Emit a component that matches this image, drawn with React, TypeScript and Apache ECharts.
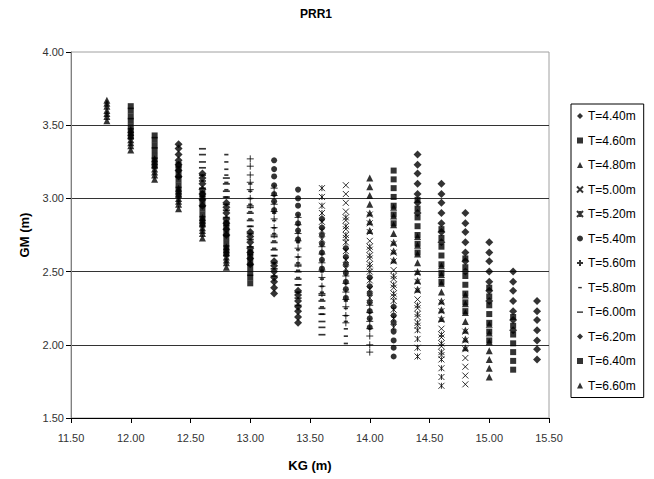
import React, { useEffect, useRef } from "react";
import * as echarts from "echarts";

// KG columns with GM values (m) for each draft T
const T440: [number, number[]][] = [
  [14.4, [3.30, 3.23, 3.17, 3.10, 3.03, 2.97, 2.90]],
  [14.6, [3.10, 3.03, 2.97, 2.90, 2.83, 2.77, 2.70]],
  [14.8, [2.90, 2.83, 2.77, 2.70, 2.63, 2.57, 2.50]],
  [15.0, [2.70, 2.63, 2.57, 2.50, 2.43, 2.37, 2.30]],
  [15.2, [2.50, 2.43, 2.37, 2.30, 2.23, 2.17, 2.10]],
  [15.4, [2.30, 2.23, 2.17, 2.10, 2.03, 1.97, 1.90]],
];
const T460: [number, number[]][] = [
  [14.2, [3.19, 3.13, 3.07, 3.01, 2.95, 2.89, 2.83]],
  [14.4, [2.99, 2.93, 2.87, 2.81, 2.75, 2.69, 2.63]],
  [14.6, [2.79, 2.73, 2.67, 2.61, 2.55, 2.49, 2.43]],
  [14.8, [2.59, 2.53, 2.47, 2.41, 2.35, 2.29, 2.23]],
  [15.0, [2.39, 2.33, 2.27, 2.21, 2.15, 2.09, 2.03]],
  [15.2, [2.19, 2.13, 2.07, 2.01, 1.95, 1.89, 1.83]],
];
const T480: [number, number[]][] = [
  [14.0, [3.14, 3.08, 3.02, 2.96, 2.90, 2.84, 2.78]],
  [14.2, [2.94, 2.88, 2.82, 2.76, 2.70, 2.64, 2.58]],
  [14.4, [2.74, 2.68, 2.62, 2.56, 2.50, 2.44, 2.38]],
  [14.6, [2.54, 2.48, 2.42, 2.36, 2.30, 2.24, 2.18]],
  [14.8, [2.34, 2.28, 2.22, 2.16, 2.10, 2.04, 1.98]],
  [15.0, [2.14, 2.08, 2.02, 1.96, 1.90, 1.84, 1.78]],
];
const T500: [number, number[]][] = [
  [13.8, [3.09, 3.03, 2.97, 2.91, 2.85, 2.79, 2.73]],
  [14.0, [2.89, 2.83, 2.77, 2.71, 2.65, 2.59, 2.53]],
  [14.2, [2.69, 2.63, 2.57, 2.51, 2.45, 2.39, 2.33]],
  [14.4, [2.49, 2.43, 2.37, 2.31, 2.25, 2.19, 2.13]],
  [14.6, [2.29, 2.23, 2.17, 2.11, 2.05, 1.99, 1.93]],
  [14.8, [2.09, 2.03, 1.97, 1.91, 1.85, 1.79, 1.73]],
];
const T520: [number, number[]][] = [
  [13.6, [3.07, 3.01, 2.95, 2.90, 2.84, 2.78, 2.72]],
  [13.8, [2.87, 2.81, 2.75, 2.70, 2.64, 2.58, 2.52]],
  [14.0, [2.67, 2.61, 2.55, 2.50, 2.44, 2.38, 2.32]],
  [14.2, [2.47, 2.41, 2.35, 2.30, 2.24, 2.18, 2.12]],
  [14.4, [2.27, 2.21, 2.15, 2.10, 2.04, 1.98, 1.92]],
  [14.6, [2.07, 2.01, 1.95, 1.90, 1.84, 1.78, 1.72]],
];
const T540: [number, number[]][] = [
  [13.2, [3.26, 3.20, 3.15, 3.09, 3.03, 2.98, 2.92]],
  [13.4, [3.06, 3.00, 2.95, 2.89, 2.83, 2.78, 2.72]],
  [13.6, [2.86, 2.80, 2.75, 2.69, 2.63, 2.58, 2.52]],
  [13.8, [2.66, 2.60, 2.55, 2.49, 2.43, 2.38, 2.32]],
  [14.0, [2.46, 2.40, 2.35, 2.29, 2.23, 2.18, 2.12]],
  [14.2, [2.26, 2.20, 2.15, 2.09, 2.03, 1.98, 1.92]],
];
const T560: [number, number[]][] = [
  [13.0, [3.27, 3.22, 3.16, 3.11, 3.06, 3.00, 2.95]],
  [13.2, [3.07, 3.02, 2.96, 2.91, 2.86, 2.80, 2.75]],
  [13.4, [2.87, 2.82, 2.76, 2.71, 2.66, 2.60, 2.55]],
  [13.6, [2.67, 2.62, 2.56, 2.51, 2.46, 2.40, 2.35]],
  [13.8, [2.47, 2.42, 2.36, 2.31, 2.26, 2.20, 2.15]],
  [14.0, [2.27, 2.22, 2.16, 2.11, 2.06, 2.00, 1.95]],
];
const T580: [number, number[]][] = [
  [12.8, [3.30, 3.25, 3.20, 3.16, 3.11, 3.06, 3.01]],
  [13.0, [3.10, 3.05, 3.00, 2.96, 2.91, 2.86, 2.81]],
  [13.2, [2.90, 2.85, 2.80, 2.76, 2.71, 2.66, 2.61]],
  [13.4, [2.70, 2.65, 2.60, 2.56, 2.51, 2.46, 2.41]],
  [13.6, [2.50, 2.45, 2.40, 2.36, 2.31, 2.26, 2.21]],
  [13.8, [2.30, 2.25, 2.20, 2.16, 2.11, 2.06, 2.01]],
];
const T600: [number, number[]][] = [
  [12.6, [3.34, 3.30, 3.25, 3.21, 3.16, 3.12, 3.07]],
  [12.8, [3.14, 3.10, 3.05, 3.01, 2.96, 2.92, 2.87]],
  [13.0, [2.94, 2.90, 2.85, 2.81, 2.76, 2.72, 2.67]],
  [13.2, [2.74, 2.70, 2.65, 2.61, 2.56, 2.52, 2.47]],
  [13.4, [2.54, 2.50, 2.45, 2.41, 2.36, 2.32, 2.27]],
  [13.6, [2.34, 2.30, 2.25, 2.21, 2.16, 2.12, 2.07]],
];
const T620: [number, number[]][] = [
  [12.4, [3.37, 3.34, 3.30, 3.26, 3.23, 3.19, 3.15]],
  [12.6, [3.17, 3.14, 3.10, 3.06, 3.03, 2.99, 2.95]],
  [12.8, [2.97, 2.94, 2.90, 2.86, 2.83, 2.79, 2.75]],
  [13.0, [2.77, 2.74, 2.70, 2.66, 2.63, 2.59, 2.55]],
  [13.2, [2.57, 2.54, 2.50, 2.46, 2.43, 2.39, 2.35]],
  [13.4, [2.37, 2.34, 2.30, 2.26, 2.23, 2.19, 2.15]],
];
const T640: [number, number[]][] = [
  [12.0, [3.63, 3.60, 3.56, 3.53, 3.49, 3.46, 3.42]],
  [12.2, [3.43, 3.40, 3.36, 3.33, 3.29, 3.26, 3.22]],
  [12.4, [3.23, 3.20, 3.16, 3.13, 3.09, 3.06, 3.02]],
  [12.6, [3.03, 3.00, 2.96, 2.93, 2.89, 2.86, 2.82]],
  [12.8, [2.83, 2.80, 2.76, 2.73, 2.69, 2.66, 2.62]],
  [13.0, [2.63, 2.60, 2.56, 2.53, 2.49, 2.46, 2.42]],
];
const T660: [number, number[]][] = [
  [11.8, [3.67, 3.65, 3.63, 3.60, 3.58, 3.56, 3.53]],
  [12.0, [3.47, 3.45, 3.43, 3.40, 3.38, 3.36, 3.33]],
  [12.2, [3.27, 3.25, 3.23, 3.20, 3.18, 3.16, 3.13]],
  [12.4, [3.07, 3.05, 3.03, 3.00, 2.98, 2.96, 2.93]],
  [12.6, [2.87, 2.85, 2.83, 2.80, 2.78, 2.76, 2.73]],
  [12.8, [2.67, 2.65, 2.63, 2.60, 2.58, 2.56, 2.53]],
];

const seriesNames = [
  "T=4.40m", "T=4.60m", "T=4.80m", "T=5.00m", "T=5.20m", "T=5.40m",
  "T=5.60m", "T=5.80m", "T=6.00m", "T=6.20m", "T=6.40m", "T=6.60m",
];
const seriesData = [T440, T460, T480, T500, T520, T540, T560, T580, T600, T620, T640, T660];

const xTicks = { min: 11.5, max: 15.5, interval: 0.5 };
const yTicks = { min: 1.5, max: 4.0, interval: 0.5 };

// marker styles (not data)
const CROSS = "path://M0 0L10 10M10 0L0 10";
const STAR = "path://M0 0L10 10M10 0L0 10M5 0L5 10";
const PLUS = "path://M5 0L5 10M0 5L10 5";
const SHORT_DASH = "path://M0 0L0 0M10 10L10 10M2 4L8 4L8 6.4L2 6.4Z";
const LONG_DASH = "path://M0 0L0 0M10 10L10 10M0 4L10 4L10 6.4L0 6.4Z";
const markerStyles: { symbol: string; size: number; stroke?: boolean }[] = [
  { symbol: "diamond", size: 8 },
  { symbol: "rect", size: 6 },
  { symbol: "triangle", size: 7 },
  { symbol: CROSS, size: 6, stroke: true },
  { symbol: STAR, size: 6, stroke: true },
  { symbol: "circle", size: 6 },
  { symbol: PLUS, size: 7, stroke: true },
  { symbol: SHORT_DASH, size: 7 },
  { symbol: LONG_DASH, size: 7 },
  { symbol: "diamond", size: 8 },
  { symbol: "rect", size: 6 },
  { symbol: "triangle", size: 7 },
];

const FONT = "'Liberation Sans', Arial, sans-serif";

export default function App() {
  const ref = useRef<HTMLDivElement>(null);
  useEffect(() => {
    if (!ref.current) return;
    const chart = echarts.init(ref.current, undefined, { renderer: "svg" });
    const series = seriesNames.map((name, i) => {
      const pts: number[][] = [];
      seriesData[i].forEach(([kg, gms]) => gms.forEach((g) => pts.push([kg, g])));
      const m = markerStyles[i];
      return {
        name,
        type: "scatter",
        data: pts,
        symbol: m.symbol,
        symbolSize: m.size,
        symbolKeepAspect: true,
        itemStyle: m.stroke
          ? { color: "rgba(0,0,0,0)", borderColor: "#000", borderWidth: 1 }
          : { color: "#000" },
      };
    });
    chart.setOption({
      animation: false,
      backgroundColor: "#fff",
      textStyle: { fontFamily: FONT },
      title: {
        text: "PRR1",
        left: 295,
        top: 3,
        textStyle: { fontSize: 12, fontWeight: "bold", color: "#000", fontFamily: FONT },
      },
      grid: {
        left: 71,
        top: 52,
        width: 478,
        height: 366,
        show: true,
        borderColor: "#a0a0a0",
        borderWidth: 1,
      },
      legend: {
        orient: "vertical",
        left: 571,
        top: 104,
        width: 74,
        padding: [5, 8, 5, 5],
        borderColor: "#000",
        borderWidth: 1,
        itemGap: 10.5,
        itemWidth: 6,
        itemHeight: 6,
        symbolKeepAspect: true,
        textStyle: { fontSize: 12, color: "#000", lineHeight: 14, fontFamily: FONT },
        data: seriesNames,
      },
      xAxis: {
        type: "value",
        ...xTicks,
        name: "KG (m)",
        nameLocation: "middle",
        nameGap: 41,
        nameTextStyle: { fontSize: 13, fontWeight: "bold", color: "#000", fontFamily: FONT },
        axisLine: { show: true, lineStyle: { color: "#000", width: 1 } },
        axisTick: { show: true, inside: false, length: 5, lineStyle: { color: "#000" } },
        axisLabel: {
          formatter: (v: number) => v.toFixed(2),
          fontSize: 11,
          color: "#333",
          margin: 14,
          fontFamily: FONT,
        },
        splitLine: { show: false },
      },
      yAxis: {
        type: "value",
        ...yTicks,
        name: "GM (m)",
        nameLocation: "middle",
        nameGap: 40,
        nameTextStyle: { fontSize: 13, fontWeight: "bold", color: "#000", fontFamily: FONT },
        axisLine: { show: true, lineStyle: { color: "#808080", width: 1 } },
        axisTick: { show: true, inside: false, length: 5, lineStyle: { color: "#000" } },
        axisLabel: {
          formatter: (v: number) => v.toFixed(2),
          fontSize: 11,
          color: "#333",
          margin: 7,
          fontFamily: FONT,
        },
        splitLine: {
          show: true,
          showMinLine: false,
          showMaxLine: false,
          lineStyle: { color: "#333", width: 1 },
        },
      },
      series,
    });
    return () => chart.dispose();
  }, []);
  return (
    <div
      ref={ref}
      style={{ position: "fixed", left: 0, top: 0, width: 654, height: 479 }}
    />
  );
}
